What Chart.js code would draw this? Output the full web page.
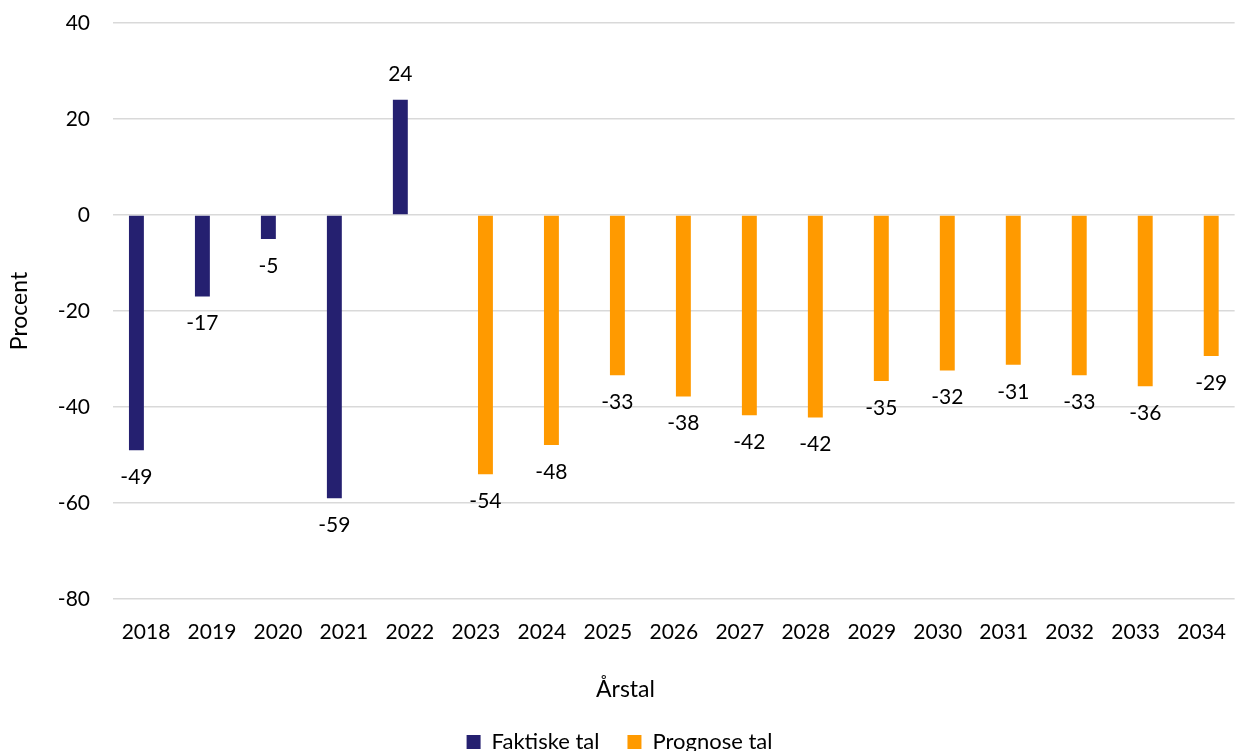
<!DOCTYPE html>
<html>
<head>
<meta charset="utf-8">
<script src="https://cdn.jsdelivr.net/npm/chart.js@4/dist/chart.umd.min.js"></script>
<style>
html,body{margin:0;padding:0;background:#fff;}
#wrap{width:1239px;height:751px;position:relative;}
</style>
</head>
<body>
<div id="wrap"><canvas id="c" width="1239" height="751"></canvas></div>
<script>
const years = ['2018','2019','2020','2021','2022','2023','2024','2025','2026','2027','2028','2029','2030','2031','2032','2033','2034'];
const faktiske = [-49, -17, -5, -59, 24, null, null, null, null, null, null, null, null, null, null, null, null];
const prognose = [null, null, null, null, null, -54, -47.9, -33.4, -37.8, -41.7, -42.2, -34.6, -32.4, -31.2, -33.4, -35.7, -29.4];
const yTicks = [-80, -60, -40, -20, 0, 20, 40];
const xTitle = 'Årstal';
const yTitle = 'Procent';

const FONT = 'Lato, "Open Sans", sans-serif';

const labelPlugin = {
  id: 'barLabels',
  afterDatasetsDraw(chart) {
    const ctx = chart.ctx;
    ctx.save();
    ctx.font = '21px ' + FONT;
    ctx.fillStyle = '#000';
    ctx.textAlign = 'center';
    ctx.textBaseline = 'middle';
    chart.data.datasets.forEach((ds, di) => {
      const meta = chart.getDatasetMeta(di);
      meta.data.forEach((el, i) => {
        const v = ds.data[i];
        if (v === null || v === undefined) return;
        const y = v < 0 ? el.y + 27 : el.y - 26;
        ctx.fillText(String(Math.round(v)), el.x, y);
      });
    });
    ctx.restore();
  }
};

const xTitlePlugin = {
  id: 'xTitle',
  afterDraw(chart) {
    const ctx = chart.ctx;
    ctx.save();
    ctx.font = '23px ' + FONT;
    ctx.fillStyle = '#000';
    ctx.textAlign = 'center';
    ctx.textBaseline = 'middle';
    ctx.fillText(xTitle, chart.width / 2 + 6, 690);
    ctx.restore();
  }
};

new Chart(document.getElementById('c'), {
  type: 'bar',
  data: {
    labels: years,
    datasets: [
      { label: 'Faktiske tal', data: faktiske, backgroundColor: '#252070', categoryPercentage: 0.58, barPercentage: 0.78 },
      { label: 'Prognose tal', data: prognose, backgroundColor: '#FF9A00', categoryPercentage: 0.58, barPercentage: 0.78 }
    ]
  },
  options: {
    responsive: false,
    animation: false,
    layout: { padding: { top: 23, right: 0, left: 0, bottom: -12 } },
    plugins: {
      legend: {
        position: 'bottom',
        labels: {
          font: { family: FONT, size: 22 },
          color: '#000',
          boxWidth: 14,
          boxHeight: 14,
          padding: 28
        }
      },
      tooltip: { enabled: false }
    },
    scales: {
      x: {
        afterFit(scale) { scale.height = 104; },
        grid: { display: false },
        border: { display: false },
        ticks: { font: { family: FONT, size: 21 }, color: '#000', padding: 13, maxRotation: 0 },
        title: { display: false, text: xTitle }
      },
      y: {
        min: -80,
        max: 40,
        afterBuildTicks(scale) { scale.ticks = yTicks.map(v => ({ value: v })); },
        afterFit(scale) { scale.width = 113; },
        grid: { color: '#d9d9d9', lineWidth: 1.5, drawTicks: true, tickLength: 23, tickColor: 'rgba(0,0,0,0)' },
        border: { display: false },
        ticks: { font: { family: FONT, size: 21 }, color: '#000', padding: 0 },
        title: { display: true, text: yTitle, font: { family: FONT, size: 23 }, color: '#000', padding: { top: 6, bottom: 0 } }
      }
    }
  },
  plugins: [labelPlugin, xTitlePlugin]
});
</script>
</body>
</html>
